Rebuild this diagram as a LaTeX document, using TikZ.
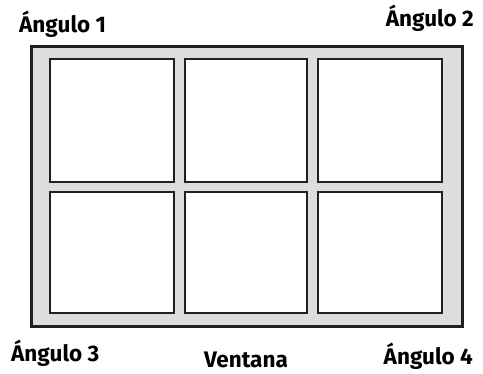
\documentclass[tikz,border=0pt]{standalone}
\usepackage{fontspec}
\setmainfont{Fira Sans}
\usepackage{tikz}

\definecolor{frameline}{HTML}{231F20}
\definecolor{framefill}{HTML}{DCDDDE}
\tikzset{
  lbl/.style={font=\fontsize{22.5}{25}\selectfont\bfseries, inner sep=0pt},
  pane/.style={draw=frameline, line width=2.5pt, fill=white}
}

\begin{document}
\begin{tikzpicture}[x=1pt,y=-1pt]
% Canvas in pixel units, y downwards
\useasboundingbox (0,0) rectangle (483,374);

% Outer frame
\draw[frameline, line width=3pt, fill=framefill] (31,47) rectangle (462,327);

% Panes (columns x rows)
\foreach \xa/\xb in {50/174, 185/307, 318/442} {
 \foreach \ya/\yb in {59/182, 192/313} {
  \draw[pane] (\xa,\ya) rectangle (\xb,\yb);
 }
}

% Corner labels
\node[lbl, anchor=base west] (ang1) at (19,33) {Ángulo 1};
\node[lbl, anchor=base east] (ang2) at (474,27) {Ángulo 2};
\node[lbl, anchor=base west] (ang3) at (11,362) {Ángulo 3};
\node[lbl, anchor=base east] (ang4) at (473,365) {Ángulo 4};

\node[lbl, anchor=base] (ventana) at (246,368) {Ventana};
\end{tikzpicture}
\end{document}
